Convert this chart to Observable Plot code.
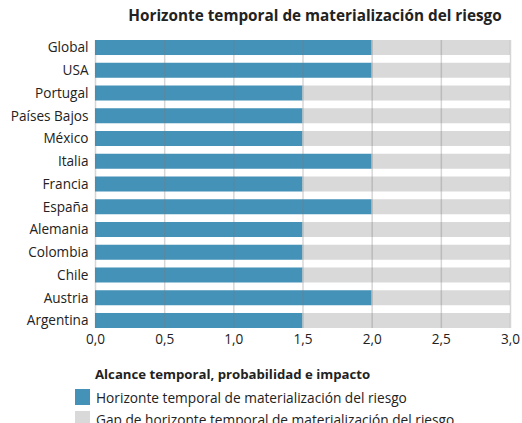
<!DOCTYPE html>
<html><head><meta charset="utf-8">
<script src="https://cdn.jsdelivr.net/npm/d3@7"></script>
<script src="https://cdn.jsdelivr.net/npm/@observablehq/plot@0.6"></script>
<style>
body{margin:0;background:#fff;font-family:"Open Sans",sans-serif;}
#wrap{position:relative;width:522px;height:423px;overflow:hidden;}
#title{position:absolute;left:108px;width:414px;top:5px;text-align:center;font-weight:700;font-size:15.3px;color:#222;}
#legend{position:absolute;left:75px;top:364px;font-size:13.7px;color:#222;}
.lt{font-weight:700;margin-left:20px;height:22px;line-height:20px;font-size:13.2px;}
.li{display:flex;align-items:center;height:22px;}
.sw{width:15px;height:16px;margin-right:6px;}
</style></head><body>
<div id="wrap">
<div id="title">Horizonte temporal de materialización del riesgo</div>
<div id="chart"></div>
<div id="legend"></div>
</div>
<script>
const countries = ["Global","USA","Portugal","Países Bajos","México","Italia","Francia","España","Alemania","Colombia","Chile","Austria","Argentina"];
const horizonte = [2.0,2.0,1.5,1.5,1.5,2.0,1.5,2.0,1.5,1.5,1.5,2.0,1.5];
const gap = [1.0,1.0,1.5,1.5,1.5,1.0,1.5,1.0,1.5,1.5,1.5,1.0,1.5];
const seriesNames = ["Horizonte temporal de materialización del riesgo","Gap de horizonte temporal de materialización del riesgo"];
const colors = ["#4592b8","#d9d9d9"];
const xTicks = [0,0.5,1,1.5,2,2.5,3];
const legendTitle = "Alcance temporal, probabilidad e impacto";

const rows = [];
countries.forEach((c,i)=>{
  rows.push({country:c, series:seriesNames[0], value:horizonte[i]});
  rows.push({country:c, series:seriesNames[1], value:gap[i]});
});

const plot = Plot.plot({
  width:522, height:350,
  marginLeft:95, marginRight:12, marginTop:40, marginBottom:22,
  style:{fontFamily:"Open Sans, sans-serif", fontSize:"13.6px", color:"#222"},
  x:{domain:[0,3], ticks:xTicks, tickFormat:d=>d.toFixed(1).replace(".",","), label:null, tickSize:0, tickPadding:6},
  y:{domain:countries, label:null, paddingInner:0.34, paddingOuter:0, round:false, tickSize:0, tickPadding:7},
  color:{domain:seriesNames, range:colors},
  marks:[
    Plot.barX(rows, Plot.stackX({x:"value", y:"country", fill:"series", order:seriesNames})),
    Plot.ruleX(xTicks, {stroke:"#777", strokeOpacity:0.3, strokeWidth:1.5})
  ]
});
plot.style.position="absolute"; plot.style.top="0px"; plot.style.left="0px";
document.getElementById("chart").appendChild(plot);

const lg = document.getElementById("legend");
lg.innerHTML = `<div class="lt">${legendTitle}</div>` + seriesNames.map((s,i)=>`<div class="li"><div class="sw" style="background:${colors[i]}"></div>${s}</div>`).join("");
</script>
</body></html>
